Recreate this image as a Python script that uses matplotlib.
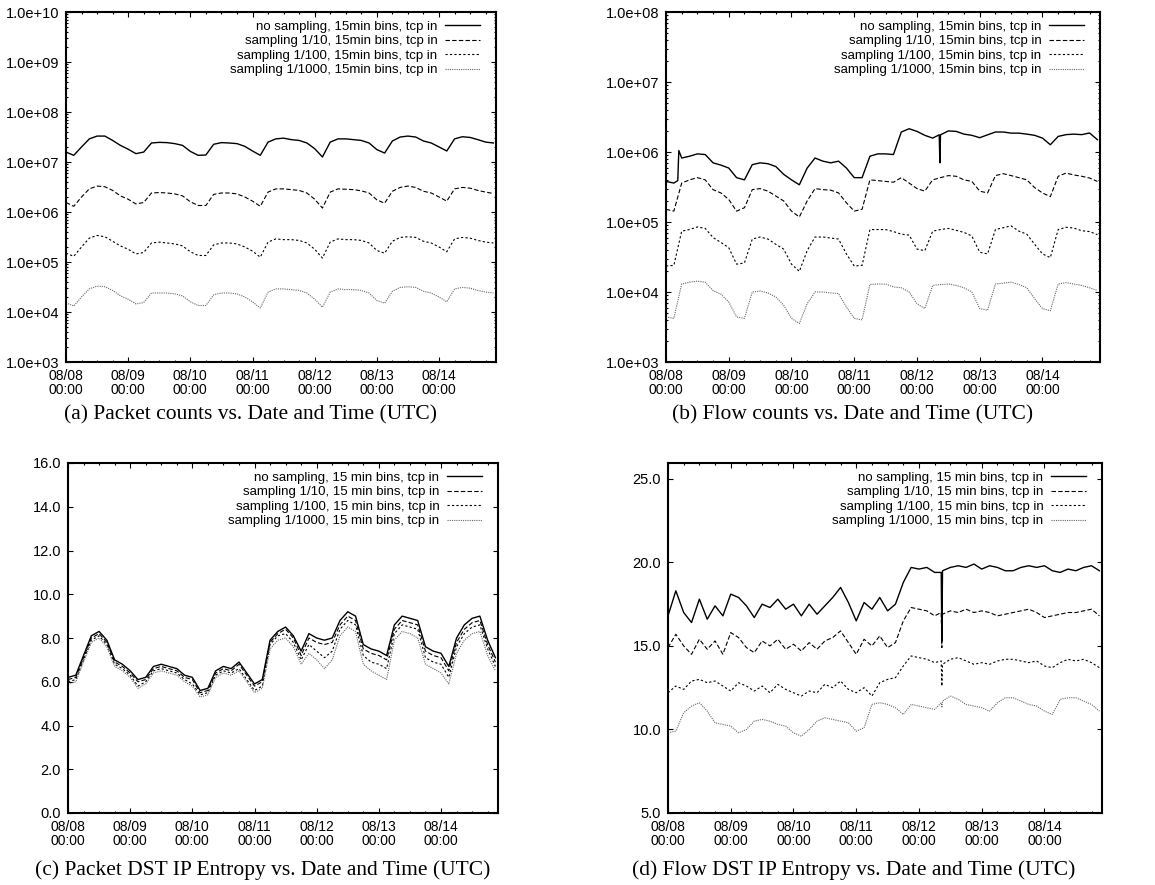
import numpy as np
import matplotlib
matplotlib.use("Agg")
import matplotlib.pyplot as plt
import matplotlib.dates as mdates
from matplotlib.ticker import FuncFormatter, LogLocator, MultipleLocator, NullFormatter

plt.rcParams["font.family"] = ["Liberation Sans", "DejaVu Sans"]

# readings every 3 hours, 08/08 00:00 .. 08/14 21:00 UTC
hours = np.arange(0, 166, 3)

# (a) packet counts, millions
pk_none = [15.8, 13.6, 20, 29, 33, 33, 27, 21.5, 18, 14.7, 15.8, 24, 24.7, 24.4, 23.3, 21.5, 16.3, 13.6, 13.8, 22.6,
           24.4, 24, 23.3, 20.6, 16.6, 13.6, 25, 29, 30, 28, 27, 24, 18.5, 12.6, 25, 29, 29, 28, 27, 24,
           17.7, 15.1, 26.3, 31.6, 33, 31.6, 26.3, 24, 20, 16.6, 29, 32, 31, 28, 25, 24]
pk_10 = [1.55, 1.3, 2.0, 2.9, 3.3, 3.2, 2.7, 2.1, 1.8, 1.45, 1.55, 2.4, 2.45, 2.4, 2.3, 2.1, 1.6, 1.35, 1.35, 2.25,
         2.4, 2.4, 2.3, 2.0, 1.65, 1.3, 2.5, 2.9, 2.9, 2.8, 2.7, 2.4, 1.8, 1.2, 2.5, 2.9, 2.85, 2.8, 2.65, 2.4,
         1.75, 1.5, 2.6, 3.1, 3.3, 3.1, 2.6, 2.4, 2.0, 1.65, 2.9, 3.1, 3.0, 2.7, 2.5, 2.35]
pk_100 = [0.15, 0.13, 0.2, 0.3, 0.34, 0.32, 0.26, 0.21, 0.18, 0.145, 0.155, 0.24, 0.25, 0.24, 0.23, 0.21, 0.16, 0.135,
          0.135, 0.22, 0.24, 0.24, 0.23, 0.2, 0.165, 0.125, 0.25, 0.29, 0.28, 0.28, 0.27, 0.24, 0.18, 0.12, 0.25,
          0.29, 0.28, 0.28, 0.27, 0.24, 0.17, 0.15, 0.26, 0.31, 0.32, 0.31, 0.26, 0.24, 0.2, 0.16, 0.29, 0.31, 0.3,
          0.27, 0.25, 0.24]
pk_1000 = [0.0152, 0.0132, 0.02, 0.029, 0.033, 0.032, 0.027, 0.021, 0.018, 0.0145, 0.0155, 0.024, 0.024, 0.024,
           0.023, 0.021, 0.016, 0.0135, 0.0135, 0.022, 0.024, 0.024, 0.023, 0.02, 0.016, 0.012, 0.025, 0.029, 0.029,
           0.028, 0.027, 0.024, 0.018, 0.0125, 0.025, 0.029, 0.028, 0.028, 0.027, 0.024, 0.017, 0.015, 0.026, 0.031,
           0.032, 0.031, 0.026, 0.024, 0.02, 0.016, 0.029, 0.031, 0.03, 0.027, 0.025, 0.024]

# (b) flow counts, units of 1e5 / 1e5 / 1e4 / 1e3
fl_none = [3.8, 3.6, 8.2, 8.7, 9.4, 9.2, 7.0, 6.5, 5.9, 4.3, 4.0, 6.6, 7.0, 6.8, 6.2, 4.8, 4.0, 3.4, 5.9, 8.2,
           7.4, 7.0, 7.4, 5.9, 4.3, 4.3, 8.7, 9.4, 9.4, 9.2, 19.3, 21.5, 19.7, 17.3, 15.8, 17.6, 20, 19.7, 18, 17.3,
           16, 17.6, 19.3, 19.3, 18.6, 18.6, 18, 17.3, 15.8, 12.7, 16.7, 17.7, 18, 17.7, 18.7, 15]
fl_10 = [1.52, 1.43, 3.6, 4.0, 4.3, 4.0, 2.9, 2.6, 2.1, 1.43, 1.6, 2.9, 3.0, 2.76, 2.35, 2.0, 1.43, 1.18, 2.0, 3.0,
         2.9, 2.85, 2.6, 1.88, 1.43, 1.52, 4.0, 3.9, 3.8, 3.7, 4.3, 3.6, 3.0, 2.76, 4.0, 4.3, 4.6, 4.5, 4.0, 3.8,
         2.76, 2.6, 4.6, 4.9, 4.6, 4.3, 4.0, 3.1, 2.6, 2.3, 4.5, 5.0, 4.7, 4.5, 4.25, 3.8]
fl_100 = [2.35, 2.4, 7.4, 7.8, 8.5, 8.1, 6.0, 5.1, 4.3, 2.5, 2.6, 5.7, 6.1, 5.7, 4.8, 4.1, 2.5, 1.97, 3.9, 6.1,
          6.1, 5.9, 5.7, 3.5, 2.35, 2.4, 7.8, 7.8, 7.8, 7.3, 6.7, 6.5, 4.1, 3.9, 7.4, 7.8, 8.1, 7.6, 7.1, 6.3,
          3.7, 3.5, 7.8, 8.3, 8.8, 7.4, 6.7, 4.8, 3.5, 3.1, 7.8, 8.4, 8.2, 7.5, 7.3, 6.6]
fl_1000 = [4.4, 4.2, 13, 13.8, 14.3, 13.8, 10.5, 9.3, 7.2, 4.4, 4.2, 10, 10.3, 9.7, 8.5, 6.5, 4.2, 3.55, 6.8, 10,
           10, 9.7, 9.5, 6.1, 4.2, 4.0, 12.8, 13, 13, 11.8, 11.5, 10, 6.8, 5.8, 12.4, 12.8, 13, 12.4, 11.5, 10,
           5.8, 5.5, 13, 13.4, 13.8, 12.8, 11.5, 8.0, 5.8, 5.4, 13, 13.6, 13, 12.4, 11.5, 10.5]
# short outliers of the unsampled flow count (hour, units of 1e5)
fl_none_extra_h = [4.5, 4.9, 104.5, 104.75]
fl_none_extra_v = [3.9, 10.5, 17.6, 7.0]

# (c) packet dst ip entropy
pe_none = [6.2, 6.3, 7.2, 8.1, 8.3, 7.9, 7.0, 6.8, 6.5, 6.1, 6.2, 6.7, 6.8, 6.7, 6.6, 6.3, 6.2, 5.6, 5.7, 6.5,
           6.7, 6.6, 6.9, 6.4, 5.9, 6.1, 7.9, 8.3, 8.5, 8.1, 7.4, 8.2, 8.0, 7.9, 8.0, 8.8, 9.2, 9.0, 7.7, 7.5,
           7.4, 7.2, 8.6, 9.0, 8.9, 8.8, 7.6, 7.4, 7.3, 6.7, 8.0, 8.6, 8.9, 9.0, 7.9, 7.1]
pe_10 = [6.1, 6.2, 7.1, 8.0, 8.2, 7.8, 6.9, 6.7, 6.4, 6.0, 6.1, 6.6, 6.7, 6.6, 6.5, 6.2, 6.1, 5.5, 5.6, 6.4,
         6.6, 6.5, 6.8, 6.3, 5.8, 6.0, 7.8, 8.2, 8.4, 8.0, 7.2, 8.0, 7.8, 7.7, 7.8, 8.6, 9.0, 8.8, 7.5, 7.3,
         7.2, 7.0, 8.4, 8.8, 8.7, 8.6, 7.4, 7.2, 7.1, 6.5, 7.8, 8.4, 8.7, 8.8, 7.7, 6.9]
pe_100 = [6.0, 6.1, 7.0, 7.9, 8.1, 7.7, 6.8, 6.6, 6.3, 5.8, 6.0, 6.5, 6.6, 6.5, 6.4, 6.1, 5.9, 5.4, 5.5, 6.3,
          6.5, 6.4, 6.6, 6.1, 5.6, 5.8, 7.7, 8.1, 8.2, 7.8, 7.0, 7.7, 7.4, 7.1, 7.4, 8.4, 8.8, 8.6, 7.2, 6.9,
          6.8, 6.6, 8.2, 8.6, 8.5, 8.4, 7.1, 6.9, 6.8, 6.2, 7.6, 8.2, 8.5, 8.6, 7.5, 6.7]
pe_1000 = [5.9, 6.0, 6.9, 7.8, 8.0, 7.6, 6.7, 6.5, 6.2, 5.7, 5.9, 6.4, 6.5, 6.4, 6.3, 6.0, 5.8, 5.3, 5.4, 6.2,
           6.4, 6.3, 6.5, 6.0, 5.5, 5.7, 7.5, 7.9, 8.0, 7.6, 6.8, 7.3, 7.0, 6.6, 7.0, 8.1, 8.5, 8.3, 6.8, 6.5,
           6.3, 6.1, 7.9, 8.3, 8.2, 8.0, 6.8, 6.6, 6.4, 5.9, 7.3, 7.9, 8.2, 8.3, 7.2, 6.5]

# (d) flow dst ip entropy
fe_none = [16.8, 18.3, 17.0, 16.4, 17.8, 16.6, 17.4, 16.8, 18.1, 17.9, 17.4, 16.7, 17.5, 17.3, 17.8, 17.2, 17.5,
           16.8, 17.5, 16.9, 17.4, 17.9, 18.5, 17.6, 16.5, 17.6, 17.2, 17.9, 17.1, 17.5, 18.8, 19.7, 19.6, 19.7,
           19.4, 19.5, 19.7, 19.8, 19.7, 19.9, 19.6, 19.8, 19.7, 19.5, 19.5, 19.7, 19.8, 19.7, 19.8, 19.5, 19.4,
           19.6, 19.5, 19.7, 19.8, 19.5]
fe_10 = [14.9, 15.7, 15.0, 14.5, 15.4, 14.8, 15.3, 14.5, 15.8, 15.5, 14.9, 14.6, 15.3, 15.0, 15.4, 14.8, 15.1,
         14.7, 15.2, 14.8, 15.3, 15.5, 15.9, 15.2, 14.5, 15.4, 15.0, 15.6, 14.9, 15.2, 16.5, 17.3, 17.2, 17.1,
         16.8, 16.9, 17.1, 17.0, 17.2, 17.0, 17.1, 17.0, 16.8, 16.9, 17.0, 17.1, 17.2, 17.0, 16.7, 16.8, 16.9,
         17.0, 17.0, 17.1, 17.2, 16.8]
fe_100 = [12.2, 12.6, 12.4, 12.9, 13.0, 12.8, 12.9, 12.6, 12.3, 12.8, 12.6, 12.3, 12.6, 12.2, 12.7, 12.4, 12.2,
          12.0, 12.3, 12.2, 12.7, 12.5, 12.9, 12.4, 12.2, 12.5, 12.0, 12.8, 13.0, 13.1, 13.8, 14.4, 14.3, 14.2,
          14.0, 13.9, 14.2, 14.3, 14.1, 13.9, 14.0, 13.9, 14.1, 14.2, 14.2, 14.1, 14.0, 14.1, 13.8, 13.7, 14.0,
          14.2, 14.1, 14.2, 14.0, 13.7]
fe_1000 = [9.8, 9.9, 11.0, 11.4, 11.6, 11.1, 10.4, 10.3, 10.2, 9.8, 10.0, 10.5, 10.6, 10.5, 10.3, 10.2, 9.8, 9.6,
           10.0, 10.5, 10.7, 10.6, 10.5, 10.4, 9.9, 10.1, 11.5, 11.6, 11.5, 11.3, 10.9, 11.5, 11.4, 11.3, 11.2,
           11.7, 12.0, 11.8, 11.5, 11.4, 11.3, 11.1, 11.6, 11.9, 11.9, 11.7, 11.5, 11.4, 11.1, 10.9, 11.8, 11.9,
           11.9, 11.7, 11.5, 11.1]
# the short drop on 08/12 (hour, value) for each series
fe_drop_h = [104.5, 104.75]
fe_none_drop = [19.4, 15.3]
fe_10_drop = [17.0, 14.9]
fe_100_drop = [14.1, 12.6]
fe_1000_drop = [11.6, 11.3]

labels_counts = ["no sampling, 15min bins, tcp in", "sampling 1/10, 15min bins, tcp in",
                 "sampling 1/100, 15min bins, tcp in", "sampling 1/1000, 15min bins, tcp in"]
labels_entropy = ["no sampling, 15 min bins, tcp in", "sampling 1/10, 15 min bins, tcp in",
                  "sampling 1/100, 15 min bins, tcp in", "sampling 1/1000, 15 min bins, tcp in"]
captions = ["(a) Packet counts vs. Date and Time (UTC)", "(b) Flow counts vs. Date and Time (UTC)",
            "(c) Packet DST IP Entropy vs. Date and Time (UTC)", "(d) Flow DST IP Entropy vs. Date and Time (UTC)"]

BASE = np.datetime64("2008-08-08T00:00")
END = BASE + np.timedelta64(166 * 60, "m")
line_styles = ["-", (0, (4, 2)), (0, (2, 2)), (0, (1, 1))]
line_colors = ["black", "black", "black", "#666666"]
line_widths = [1.0, 0.8, 0.8, 0.8]


def times(h):
    return BASE + np.round(np.asarray(h, dtype=float) * 60).astype("timedelta64[m]")


def merge(h, v, extra_h, extra_v):
    h = np.concatenate([np.asarray(h, float), extra_h])
    v = np.concatenate([np.asarray(v, float), extra_v])
    order = np.argsort(h, kind="stable")
    return h[order], v[order]


W, H = 1155, 885
fig = plt.figure(figsize=(W / 100, H / 100), dpi=100)


def panel(l, t, r, b):
    ax = fig.add_axes([l / W, 1 - b / H, (r - l) / W, (b - t) / H])
    for s in ax.spines.values():
        s.set_linewidth(1.5)
    ax.tick_params(which="both", direction="in", top=True, right=True, width=0.8)
    ax.tick_params(which="major", length=3.4)
    ax.tick_params(which="minor", length=1.7)
    ax.tick_params(axis="x", which="major", pad=5, labelsize=10)
    ax.tick_params(axis="y", which="major", pad=5, labelsize=10.5)
    ax.xaxis.set_major_locator(mdates.DayLocator())
    ax.xaxis.set_minor_locator(mdates.HourLocator(byhour=[6, 12, 18]))
    ax.xaxis.set_major_formatter(mdates.DateFormatter("%m/%d\n%H:%M"))
    ax.set_xlim(BASE, END)
    return ax


def draw(ax, series, labels):
    for (h, v), lab, ls, c, lw in zip(series, labels, line_styles, line_colors, line_widths):
        ax.plot(times(h), v, linestyle=ls, color=c, lw=lw, label=lab)
    ax.legend(loc="upper right", bbox_to_anchor=(0.962, 0.975), frameon=False, markerfirst=False,
              fontsize=9.5, handlelength=2.6, handletextpad=0.6, labelspacing=0.17,
              borderpad=0, borderaxespad=0)
    for tk in ax.xaxis.get_major_ticks():
        tk.label1.set_linespacing(1.0)


log_fmt = FuncFormatter(lambda v, p: f"{v:.1e}")

# (a)
ax_a = panel(66, 12, 496, 362)
draw(ax_a, [(hours, np.array(pk_none) * 1e6), (hours, np.array(pk_10) * 1e6),
            (hours, np.array(pk_100) * 1e6), (hours, np.array(pk_1000) * 1e6)], labels_counts)
ax_a.set_yscale("log")
ax_a.set_ylim(1e3, 1e10)

# (b)
ax_b = panel(666, 12, 1100, 362)
fh, fv = merge(hours, fl_none, fl_none_extra_h, fl_none_extra_v)
draw(ax_b, [(fh, fv * 1e5), (hours, np.array(fl_10) * 1e5),
            (hours, np.array(fl_100) * 1e4), (hours, np.array(fl_1000) * 1e3)], labels_counts)
ax_b.set_yscale("log")
ax_b.set_ylim(1e3, 1e8)

for ax in (ax_a, ax_b):
    ax.yaxis.set_major_locator(LogLocator(base=10, numticks=20))
    ax.yaxis.set_minor_locator(LogLocator(base=10, subs=np.arange(2, 10), numticks=20))
    ax.yaxis.set_major_formatter(log_fmt)
    ax.yaxis.set_minor_formatter(NullFormatter())

# (c)
ax_c = panel(68, 463, 498, 813)
draw(ax_c, [(hours, pe_none), (hours, pe_10), (hours, pe_100), (hours, pe_1000)], labels_entropy)
ax_c.set_ylim(0, 16)
ax_c.yaxis.set_major_locator(MultipleLocator(2))

# (d)
ax_d = panel(668, 463, 1102, 813)
draw(ax_d, [merge(hours, fe_none, fe_drop_h, fe_none_drop), merge(hours, fe_10, fe_drop_h, fe_10_drop),
            merge(hours, fe_100, fe_drop_h, fe_100_drop), merge(hours, fe_1000, fe_drop_h, fe_1000_drop)],
     labels_entropy)
ax_d.set_ylim(5, 25.95)
ax_d.yaxis.set_major_locator(MultipleLocator(5))

for ax in (ax_c, ax_d):
    ax.yaxis.set_major_formatter(FuncFormatter(lambda v, p: f"{v:.1f}"))

cap_pos = [(250, 415), (853, 415), (263, 870), (854, 870)]
for (cx, cy), txt in zip(cap_pos, captions):
    fig.text(cx / W, 1 - cy / H, txt, ha="center", va="center", fontsize=15.5, family="Liberation Serif")

fig.savefig("out.png", dpi=100)
